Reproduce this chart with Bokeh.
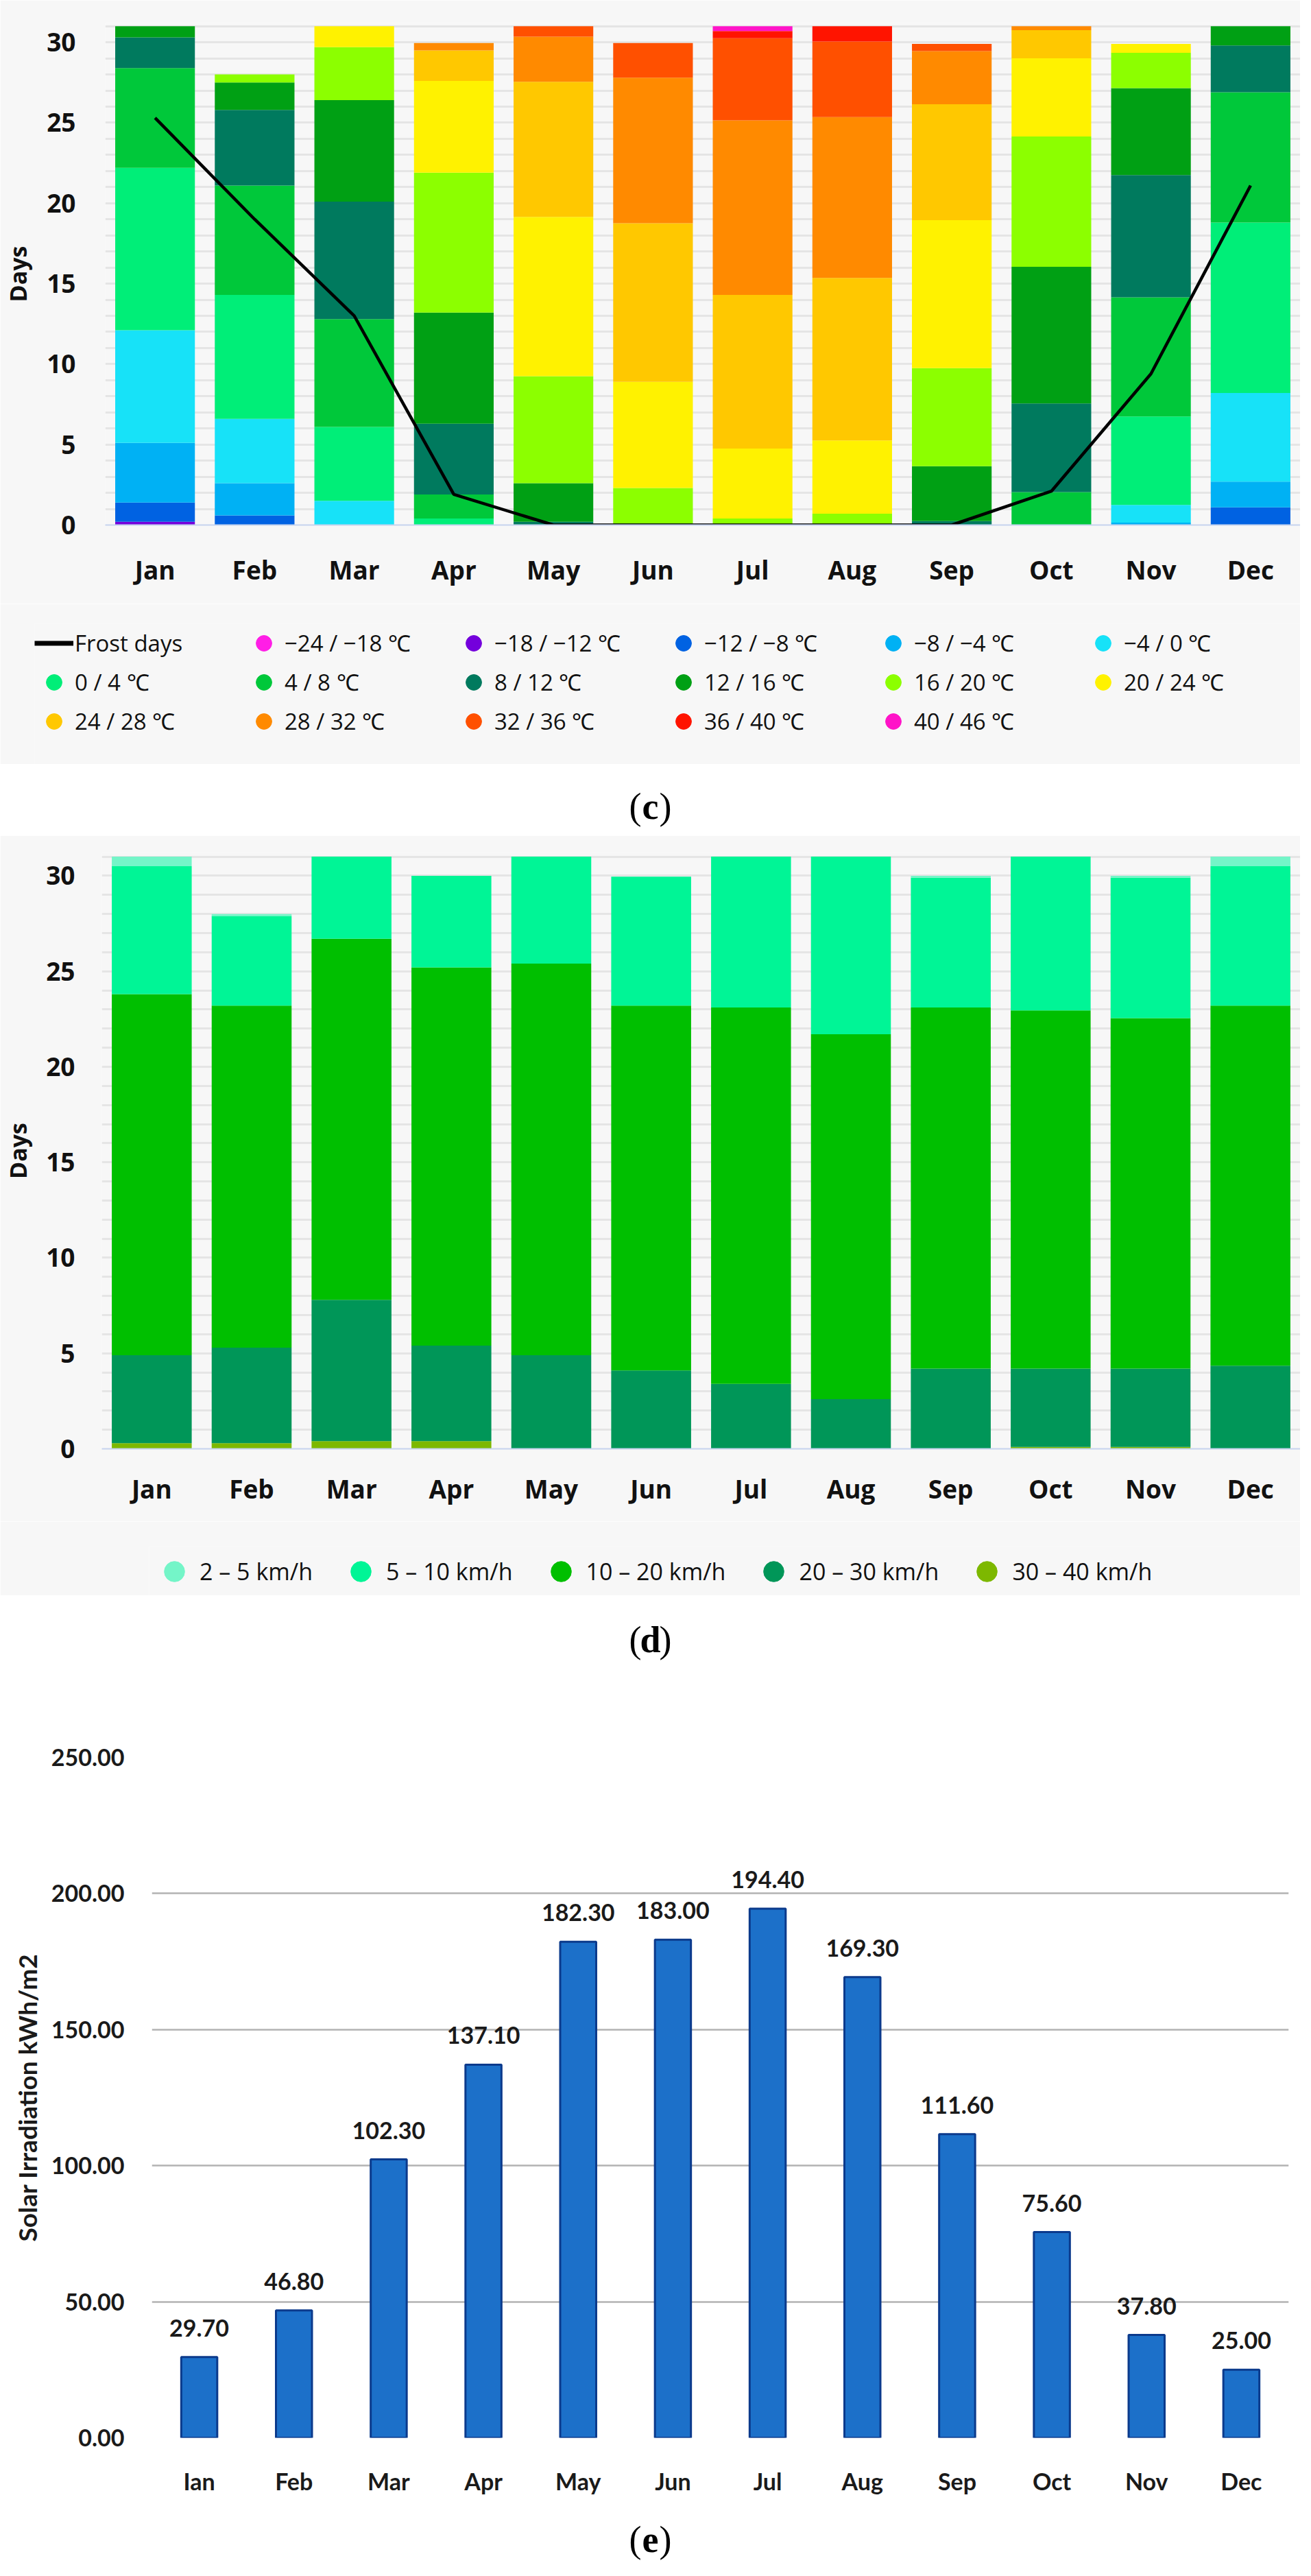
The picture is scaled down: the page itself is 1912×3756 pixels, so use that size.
from bokeh.plotting import figure
from bokeh.models import (ColumnDataSource, FactorRange, Range1d, FixedTicker, SingleIntervalTicker,
                          Legend, LegendItem, NumeralTickFormatter, LabelSet, Label)
from bokeh.layouts import column
from bokeh.embed import file_html
from bokeh.resources import INLINE
from bokeh.core.properties import value

# ---------------- data ----------------
months = ["Jan", "Feb", "Mar", "Apr", "May", "Jun", "Jul", "Aug", "Sep", "Oct", "Nov", "Dec"]

# (c) days per month in each max-temperature class
temp_labels = ["−24 / −18 ℃", "−18 / −12 ℃", "−12 / −8 ℃", "−8 / −4 ℃", "−4 / 0 ℃",
               "0 / 4 ℃", "4 / 8 ℃", "8 / 12 ℃", "12 / 16 ℃", "16 / 20 ℃", "20 / 24 ℃",
               "24 / 28 ℃", "28 / 32 ℃", "32 / 36 ℃", "36 / 40 ℃", "40 / 46 ℃"]
temp_colors = ["#ff1ee6", "#7400dc", "#0062e2", "#00b1f4", "#17e2f8",
               "#00ee78", "#00c83a", "#007a5e", "#00a014", "#8cff00", "#fff200",
               "#ffc800", "#ff8a00", "#ff5000", "#ff1400", "#ff14c8"]
t_m24_m18 = [0, 0, 0, 0, 0, 0, 0, 0, 0, 0, 0, 0]
t_m18_m12 = [0.2, 0, 0, 0, 0, 0, 0, 0, 0, 0, 0, 0]
t_m12_m8 = [1.2, 0.6, 0, 0, 0, 0, 0, 0, 0, 0, 0, 1.1]
t_m8_m4 = [3.7, 2.0, 0, 0, 0, 0, 0, 0, 0, 0, 0.15, 1.6]
t_m4_0 = [7.0, 4.0, 1.5, 0, 0, 0, 0, 0, 0, 0, 1.1, 5.5]
t_0_4 = [10.1, 7.7, 4.6, 0.4, 0, 0, 0, 0, 0, 0, 5.5, 10.6]
t_4_8 = [6.2, 6.8, 6.7, 1.5, 0, 0, 0, 0, 0, 2.05, 7.4, 8.1]
t_8_12 = [1.9, 4.7, 7.3, 4.4, 0.2, 0, 0, 0, 0.25, 5.5, 7.6, 2.9]
t_12_16 = [0.7, 1.7, 6.3, 6.9, 2.4, 0.1, 0, 0, 3.4, 8.5, 5.4, 1.2]
t_16_20 = [0, 0.5, 3.3, 8.7, 6.65, 2.2, 0.4, 0.7, 6.1, 8.1, 2.2, 0]
t_20_24 = [0, 0, 1.3, 5.7, 9.9, 6.6, 4.35, 4.55, 9.2, 4.85, 0.55, 0]
t_24_28 = [0, 0, 0, 1.9, 8.4, 9.85, 9.55, 10.1, 7.2, 1.75, 0, 0]
t_28_32 = [0, 0, 0, 0.45, 2.8, 9.05, 10.85, 10.0, 3.3, 0.25, 0, 0]
t_32_36 = [0, 0, 0, 0, 0.65, 2.15, 5.1, 4.7, 0.45, 0, 0, 0]
t_36_40 = [0, 0, 0, 0, 0, 0, 0.45, 0.95, 0, 0, 0, 0]
t_40_46 = [0, 0, 0, 0, 0, 0, 0.3, 0, 0, 0, 0, 0]
frost_days = [25.3, 19.0, 13.0, 1.9, 0, 0, 0, 0, 0, 2.1, 9.4, 21.1]

# (d) days per month in each wind-speed class
wind_labels = ["2 – 5 km/h", "5 – 10 km/h", "10 – 20 km/h", "20 – 30 km/h", "30 – 40 km/h"]
wind_colors = ["#74f5c8", "#00f596", "#00bf00", "#009658", "#7db800"]
w_2_5 = [0.5, 0.1, 0, 0, 0, 0, 0, 0, 0.1, 0, 0.1, 0.5]
w_5_10 = [6.7, 4.7, 4.3, 4.8, 5.6, 6.75, 7.9, 9.3, 6.8, 8.05, 7.35, 7.3]
w_10_20 = [18.9, 17.9, 18.9, 19.8, 20.5, 19.1, 19.7, 19.1, 18.9, 18.75, 18.35, 18.85]
w_20_30 = [4.6, 5.0, 7.4, 5.0, 4.9, 4.1, 3.4, 2.6, 4.2, 4.1, 4.1, 4.35]
w_30_40 = [0.3, 0.3, 0.4, 0.4, 0, 0, 0, 0, 0, 0.1, 0.1, 0]

# (e) solar irradiation
months_e = ["Ian", "Feb", "Mar", "Apr", "May", "Jun", "Jul", "Aug", "Sep", "Oct", "Nov", "Dec"]
solar = [29.70, 46.80, 102.30, 137.10, 182.30, 183.00, 194.40, 169.30, 111.60, 75.60, 37.80, 25.00]

PANEL = "#f7f7f7"
GRID = "#e5e5e5"
SANS = "Open Sans"
W = 1896
NAN = float("nan")


def style_stack_fig(p, tick_standoff, label_standoff):
    p.background_fill_color = PANEL
    p.border_fill_color = PANEL
    p.outline_line_color = None
    p.xgrid.grid_line_color = None
    p.ygrid.ticker = SingleIntervalTicker(interval=1)
    p.ygrid.grid_line_color = GRID
    p.ygrid.grid_line_width = 3
    p.yaxis.ticker = FixedTicker(ticks=[0, 5, 10, 15, 20, 25, 30])
    p.yaxis.axis_line_color = None
    p.yaxis.major_tick_line_color = None
    p.yaxis.minor_tick_line_color = None
    p.yaxis.major_label_standoff = tick_standoff
    p.yaxis.major_label_text_font = SANS
    p.yaxis.major_label_text_font_style = "bold"
    p.yaxis.major_label_text_font_size = "37px"
    p.yaxis.major_label_text_color = "#111111"
    p.yaxis.axis_label = "Days"
    p.yaxis.axis_label_text_font = SANS
    p.yaxis.axis_label_text_font_style = "bold"
    p.yaxis.axis_label_text_font_size = "34px"
    p.yaxis.axis_label_text_color = "#111111"
    p.yaxis.axis_label_standoff = label_standoff
    p.xaxis.axis_line_color = "#c6d3ee"
    p.xaxis.axis_line_width = 2
    p.xaxis.major_tick_line_color = None
    p.xaxis.major_label_text_font = SANS
    p.xaxis.major_label_text_font_style = "bold"
    p.xaxis.major_label_text_font_size = "37px"
    p.xaxis.major_label_text_color = "#111111"


def legend_fig(h, left, top):
    f = figure(width=W, height=h, x_range=Range1d(0, 1), y_range=Range1d(0, 1),
               output_backend="svg", toolbar_location=None, x_axis_type=None, y_axis_type=None,
               min_border_left=left, min_border_top=top, min_border_right=0, min_border_bottom=0,
               frame_align=False)
    f.grid.visible = False
    f.outline_line_color = None
    f.background_fill_color = PANEL
    f.border_fill_color = PANEL
    return f


# ---------------- (c) temperature classes ----------------
temp_series = [t_m24_m18, t_m18_m12, t_m12_m8, t_m8_m4, t_m4_0, t_0_4, t_4_8, t_8_12,
               t_12_16, t_16_20, t_20_24, t_24_28, t_28_32, t_32_36, t_36_40, t_40_46]
temp_keys = ["t%02d" % i for i in range(len(temp_series))]
src_c = ColumnDataSource(dict(month=months, **{k: v for k, v in zip(temp_keys, temp_series)}))

pc = figure(width=W, height=880, x_range=FactorRange(*months), y_range=Range1d(0, 31.2),
            output_backend="svg", toolbar_location=None, frame_align=False,
            min_border_left=142, min_border_right=0, min_border_top=33, min_border_bottom=115)
style_stack_fig(pc, 37, 16)
pc.xaxis.major_label_standoff = 33
pc.vbar_stack(temp_keys, x="month", width=0.8, color=temp_colors, line_color=None, source=src_c)
pc.line(x=months, y=frost_days, line_color="black", line_width=4.5)

lc = legend_fig(234, 50, 29)
frost_key = lc.line(x=[NAN], y=[NAN], line_color="black", line_width=7)
items_c = [LegendItem(label="Frost days", renderers=[frost_key])]
for lab, col in zip(temp_labels, temp_colors):
    r = lc.scatter(x=[NAN], y=[NAN], marker="circle", fill_color=col, line_color=col)
    items_c.append(LegendItem(label=lab, renderers=[r]))
leg_c = Legend(items=items_c, location="top_left", orientation="horizontal", ncols=6,
               glyph_width=57, glyph_height=57, label_standoff=2, label_width=247, label_height=57,
               spacing=0, padding=0, margin=0,
               label_text_font=SANS, label_text_font_size="33px", label_text_color="#111111",
               background_fill_alpha=0, border_line_color=None)
lc.add_layout(leg_c, "center")

# ---------------- (d) wind classes ----------------
wind_series = [w_2_5, w_5_10, w_10_20, w_20_30, w_30_40]
wind_keys = ["w%d" % i for i in range(len(wind_series))]
src_d = ColumnDataSource(dict(month=months, **{k: v for k, v in zip(wind_keys, wind_series)}))

pd_ = figure(width=W, height=1000, x_range=FactorRange(*months), y_range=Range1d(0, 31.2),
             output_backend="svg", toolbar_location=None, frame_align=False,
             min_border_left=132, min_border_right=0, min_border_top=25, min_border_bottom=106)
style_stack_fig(pd_, 33, 15)
pd_.xaxis.major_label_standoff = 26
# stacked from the strongest wind class (bottom) to the weakest (top)
pd_.vbar_stack(wind_keys[::-1], x="month", width=0.8, color=wind_colors[::-1], line_color=None,
               source=src_d)

ld = legend_fig(108, 217, 36)
items_d = []
for lab, col in zip(wind_labels, wind_colors):
    r = ld.scatter(x=[NAN], y=[NAN], marker="circle", fill_color=col, line_color=col)
    items_d.append(LegendItem(label=lab, renderers=[r]))
leg_d = Legend(items=items_d, location="top_left", orientation="horizontal",
               glyph_width=74, glyph_height=74, label_standoff=0, label_height=74,
               spacing=33, padding=0, margin=0,
               label_text_font=SANS, label_text_font_size="34px", label_text_color="#111111",
               background_fill_alpha=0, border_line_color=None)
ld.add_layout(leg_d, "center")

# ---------------- (e) solar irradiation ----------------
src_e = ColumnDataSource(dict(month=months_e, val=solar, txt=["%.2f" % v for v in solar]))
pe = figure(width=W, height=1202, x_range=FactorRange(*months_e), y_range=Range1d(0, 250),
            output_backend="svg", toolbar_location=None, frame_align=False,
            min_border_left=221, min_border_right=17, min_border_top=110, min_border_bottom=100)
pe.background_fill_color = "white"
pe.border_fill_color = "white"
pe.outline_line_color = None
pe.xgrid.grid_line_color = None
pe.ygrid.ticker = FixedTicker(ticks=[0, 50, 100, 150, 200, 250])
pe.ygrid.grid_line_color = "#b3b3b3"
pe.ygrid.grid_line_width = 2.5
pe.yaxis.ticker = FixedTicker(ticks=[0, 50, 100, 150, 200, 250])
pe.yaxis.formatter = NumeralTickFormatter(format="0.00")
for ax in (pe.xaxis, pe.yaxis):
    ax.axis_line_color = None
    ax.major_tick_line_color = None
    ax.minor_tick_line_color = None
    ax.major_label_text_font = "Lato"
    ax.major_label_text_font_style = "bold"
    ax.major_label_text_font_size = "34px"
    ax.major_label_text_color = "#1a1a1a"
pe.yaxis.major_label_standoff = 34
pe.xaxis.major_label_standoff = 36
pe.yaxis.axis_label = "Solar Irradiation kWh/m2"
pe.yaxis.axis_label_text_font = "Lato"
pe.yaxis.axis_label_text_font_style = "bold"
pe.yaxis.axis_label_text_font_size = "37px"
pe.yaxis.axis_label_text_color = "#1a1a1a"
pe.yaxis.axis_label_standoff = 10
pe.vbar(x="month", top="val", width=0.38, source=src_e,
        fill_color="#1c70c9", line_color="#0b3a8c", line_width=3)
pe.add_layout(LabelSet(x="month", y="val", text="txt", source=src_e, y_offset=30,
                       text_align="center", text_baseline="bottom",
                       text_font=value("Lato"), text_font_style="bold", text_font_size="34px",
                       text_color="#1a1a1a"))


# ---------------- captions ----------------
def caption(letter, h, yc):
    f = figure(width=W, height=h, x_range=Range1d(0, 1), y_range=Range1d(0, h),
               output_backend="svg", toolbar_location=None, x_axis_type=None, y_axis_type=None,
               min_border=0, frame_align=False)
    f.grid.visible = False
    f.outline_line_color = None
    f.background_fill_color = "white"
    f.border_fill_color = "white"
    y = h - yc
    f.add_layout(Label(x=0.5, y=y, text="(", x_offset=-13, text_align="right", text_baseline="middle",
                       text_font="Liberation Serif", text_font_size="54px", text_color="black"))
    f.add_layout(Label(x=0.5, y=y, text=letter, text_align="center", text_baseline="middle",
                       text_font="Liberation Serif", text_font_style="bold", text_font_size="54px",
                       text_color="black"))
    f.add_layout(Label(x=0.5, y=y, text=")", x_offset=13, text_align="left", text_baseline="middle",
                       text_font="Liberation Serif", text_font_size="54px", text_color="black"))
    return f


cap_c = caption("c", 104, 61)
cap_d = caption("d", 126, 64)
cap_e = caption("e", 86, 48)

layout = column(pc, lc, cap_c, pd_, ld, cap_d, pe, cap_e, spacing=0)
open("out.html", "w").write(file_html(layout, INLINE))
